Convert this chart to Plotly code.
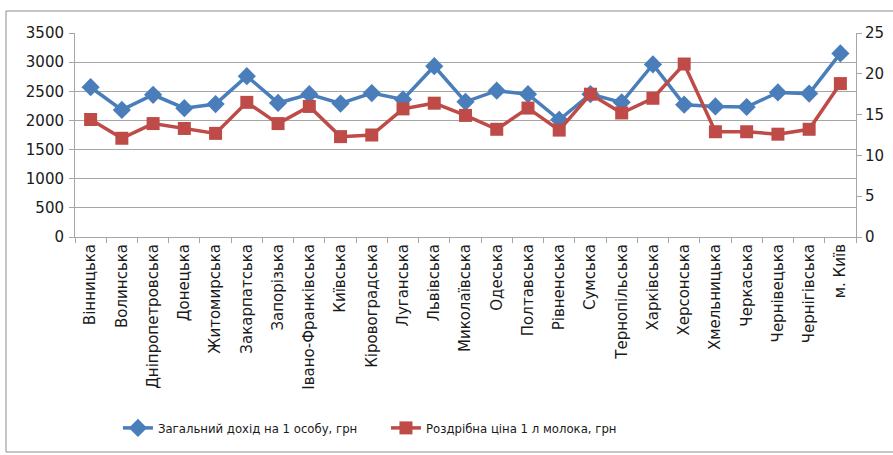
import plotly.graph_objects as go

regions = ["Вінницька", "Волинська", "Дніпропетровська", "Донецька", "Житомирська",
           "Закарпатська", "Запорізька", "Івано-Франківська", "Київська", "Кіровоградська",
           "Луганська", "Львівська", "Миколаївська", "Одеська", "Полтавська", "Рівненська",
           "Сумська", "Тернопільська", "Харківська", "Херсонська", "Хмельницька",
           "Черкаська", "Чернівецька", "Чернігівська", "м. Київ"]

income = [2570, 2180, 2440, 2210, 2280, 2760, 2300, 2450, 2290, 2470,
          2360, 2930, 2320, 2510, 2450, 2010, 2450, 2310, 2960, 2270,
          2240, 2230, 2480, 2460, 3150]

milk_price = [14.4, 12.1, 13.9, 13.3, 12.7, 16.5, 13.9, 16.0, 12.3, 12.5,
              15.7, 16.4, 14.9, 13.2, 15.8, 13.1, 17.5, 15.2, 17.0, 21.2,
              12.9, 12.9, 12.6, 13.2, 18.8]

left_ticks = [0, 500, 1000, 1500, 2000, 2500, 3000, 3500]
right_ticks = [0, 5, 10, 15, 20, 25]

income_name = "Загальний дохід на 1 особу, грн"
milk_name = "Роздрібна ціна 1 л молока, грн"

BLUE = "#4a7ebb"
RED = "#be4b48"
GRID = "#a6a6a6"
FONT = "DejaVu Sans"

fig = go.Figure()
fig.add_trace(go.Scatter(
    x=regions, y=income, name=income_name, mode="lines+markers",
    line=dict(color=BLUE, width=3.5),
    marker=dict(symbol="diamond", size=14, color=BLUE),
    yaxis="y"))
fig.add_trace(go.Scatter(
    x=regions, y=milk_price, name=milk_name, mode="lines+markers",
    line=dict(color=RED, width=3.5),
    marker=dict(symbol="square", size=13, color=RED),
    yaxis="y2"))

fig.update_layout(
    width=893, height=455,
    margin=dict(l=75, r=37, t=33, b=218),
    paper_bgcolor="white", plot_bgcolor="white",
    font=dict(family=FONT, size=15, color="#1a1a1a"),
    showlegend=True,
    legend=dict(orientation="h", x=0.055, y=-0.936, xanchor="left", yanchor="middle",
                font=dict(family="DejaVu Sans Condensed, Liberation Sans Narrow, " + FONT, size=13),
                itemwidth=30, entrywidth=223, entrywidthmode="pixels",
                bgcolor="rgba(0,0,0,0)"),
    xaxis=dict(type="category", range=[-0.5, len(regions) - 0.5],
               tickson="boundaries", ticks="outside", ticklen=5, tickcolor=GRID,
               tickangle=-90, showline=True, linecolor=GRID, linewidth=1,
               showgrid=False, automargin=False,
               tickfont=dict(family=FONT, size=15)),
    yaxis=dict(range=[0, 3500], tickvals=left_ticks, ticks="outside", ticklen=5,
               tickcolor=GRID, showline=True, linecolor=GRID, linewidth=1,
               showgrid=True, gridcolor=GRID, gridwidth=1, zeroline=False,
               automargin=False, ticklabelstandoff=2,
               tickfont=dict(family=FONT, size=15)),
    yaxis2=dict(range=[0, 25], tickvals=right_ticks, overlaying="y", side="right",
                ticks="outside", ticklen=5, tickcolor=GRID, showline=True,
                linecolor=GRID, linewidth=1, showgrid=False, zeroline=False,
                automargin=False, tickfont=dict(family=FONT, size=15)),
)

fig.add_shape(type="rect", xref="paper", yref="paper",
              x0=(6 - 75) / 781, x1=(900 - 75) / 781,
              y0=(237 - 452) / 204, y1=(237 - 11) / 204,
              line=dict(color="#8c8c8c", width=1), layer="below")

fig.write_html("out.html", config={"displayModeBar": False},
               post_script="document.body.style.margin='0';document.body.style.overflow='hidden';")
